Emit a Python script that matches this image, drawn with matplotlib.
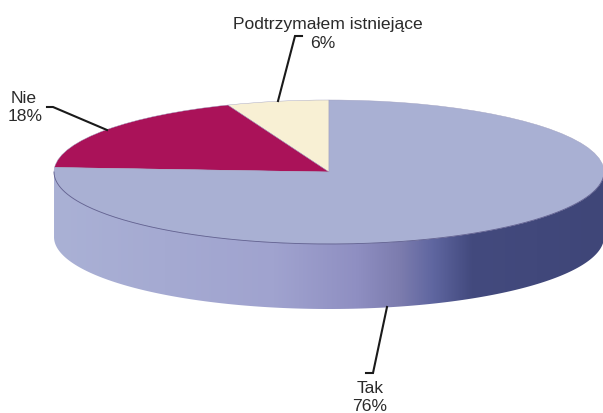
import matplotlib
matplotlib.use('Agg')
import matplotlib.pyplot as plt
import numpy as np
from matplotlib.colors import LinearSegmentedColormap
from matplotlib.patches import Polygon

plt.rcParams['font.family'] = ['Liberation Sans', 'DejaVu Sans']

labels = ['Podtrzymałem istniejące', 'Nie', 'Tak']
values = [6, 18, 76]
percents = ['6%', '18%', '76%']
colors = ['#f8f0d4', '#aa1259', '#a9b0d3']

# pie geometry in pixels of the picture
cx, cy = 329, 173
rx, ry = 275, 72
depth = 65

fig = plt.figure(figsize=(6.03, 4.14), dpi=100, facecolor='white')
ax = fig.add_axes([0, 0, 1, 1])

wedges, _ = ax.pie(values, colors=colors, startangle=90, counterclock=True, radius=1,
                   wedgeprops=dict(linewidth=0.3, edgecolor='#a0a0c0'))
for w in wedges:
    w.set_zorder(3)
ax.set_aspect('auto')

# side wall of the disc, gradient clipped to the lower rim
t = np.linspace(np.pi, 2 * np.pi, 200)
d = depth / ry
rim_x = np.cos(t)
rim_y = np.sin(t)
wall = np.column_stack([np.r_[rim_x, rim_x[::-1]], np.r_[rim_y, rim_y[::-1] - d]])
clip = Polygon(wall, closed=True, transform=ax.transData, fc='none', ec='none')
ax.add_patch(clip)

wall_cmap = LinearSegmentedColormap.from_list('wall', [
    (0.00, '#aab1d5'), (0.40, '#a0a3cf'), (0.55, '#8f8fc2'),
    (0.63, '#7c7cae'), (0.69, '#5f66a0'), (0.76, '#434a7e'), (1.00, '#3f4678')])
img = ax.imshow(np.linspace(0, 1, 256).reshape(1, -1), cmap=wall_cmap, aspect='auto',
                extent=(-1, 1, -1 - d, 0), zorder=2)
img.set_clip_path(clip)
# thin dark edge where the top meets the wall
ax.plot(rim_x, rim_y, color='#5f5f90', lw=0.6, zorder=4)
ax.set_xlim(-cx / rx, (603 - cx) / rx)
ax.set_ylim((cy - 414) / ry, cy / ry)
ax.axis('off')

# labels and leader lines, in picture pixels
ov = fig.add_axes([0, 0, 1, 1])
ov.set_xlim(0, 603)
ov.set_ylim(414, 0)
ov.axis('off')
ov.patch.set_alpha(0)

txt = dict(ha='center', va='center', fontsize=12.6, color='#2a2a2a')
ov.text(328, 24, labels[0], **txt)
ov.text(323, 43, percents[0], **txt)
ov.text(24, 99, labels[1], **txt)
ov.text(25, 117, percents[1], **txt)
ov.text(370, 389, labels[2], **txt)
ov.text(370, 407, percents[2], **txt)

line = dict(color='#1a1a1a', lw=1.5, solid_joinstyle='miter')
ov.plot([302, 295, 278], [37, 37, 102], **line)
ov.plot([47, 53, 107], [108, 108, 131], **line)
ov.plot([387, 373, 366], [308, 374, 374], **line)

fig.savefig('out.png', dpi=100)
